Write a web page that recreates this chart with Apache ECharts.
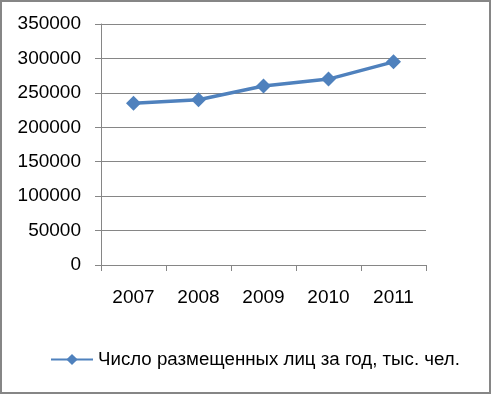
<!DOCTYPE html>
<html><head><meta charset="utf-8">
<script src="https://cdn.jsdelivr.net/npm/echarts@6/dist/echarts.min.js"></script>
<style>html,body{margin:0;padding:0;background:#fff}#c{width:492px;height:395px}</style>
</head><body><div id="c"></div>
<script>
const categories = ['2007','2008','2009','2010','2011'];
const values = [235000, 240000, 260000, 270000, 295000];
const seriesName = 'Число размещенных лиц за год, тыс. чел.';
const yMin = 0, yMax = 350000, yStep = 50000;

const chart = echarts.init(document.getElementById('c'));
const font = 'Liberation Sans';
chart.setOption({
  animation: false,
  backgroundColor: '#fff',
  textStyle: {fontFamily: font},
  graphic: [{type:'rect', shape:{x:1,y:1,width:489,height:392}, style:{fill:'none', stroke:'#868686', lineWidth:2}, silent:true}],
  grid: {left:101, right:66, top:24, bottom:130, containLabel:false},
  legend: {
    data:[seriesName], left:50, top:350, padding:0, itemWidth:42, itemHeight:14, itemGap:5,
    textStyle:{fontFamily:font, fontSize:18.7, color:'#000'}
  },
  xAxis: {
    type:'category', data:categories, boundaryGap:true,
    axisLine:{show:true, lineStyle:{color:'#868686', width:1}},
    axisTick:{show:true, length:6, lineStyle:{color:'#868686'}},
    axisLabel:{fontFamily:font, fontSize:19, color:'#000', margin:23}
  },
  yAxis: {
    type:'value', min:yMin, max:yMax, interval:yStep,
    axisLine:{show:true, lineStyle:{color:'#868686', width:1}},
    axisTick:{show:true, length:6, lineStyle:{color:'#868686'}},
    splitLine:{show:true, lineStyle:{color:'#868686', width:1}},
    axisLabel:{fontFamily:font, fontSize:19, color:'#000', margin:20, formatter: v => String(v)}
  },
  series: [{
    name: seriesName, type:'line', data:values,
    symbol:'diamond', symbolSize:15,
    lineStyle:{color:'#4F81BD', width:3.5},
    itemStyle:{color:'#4F81BD'}
  }]
});
</script></body></html>
